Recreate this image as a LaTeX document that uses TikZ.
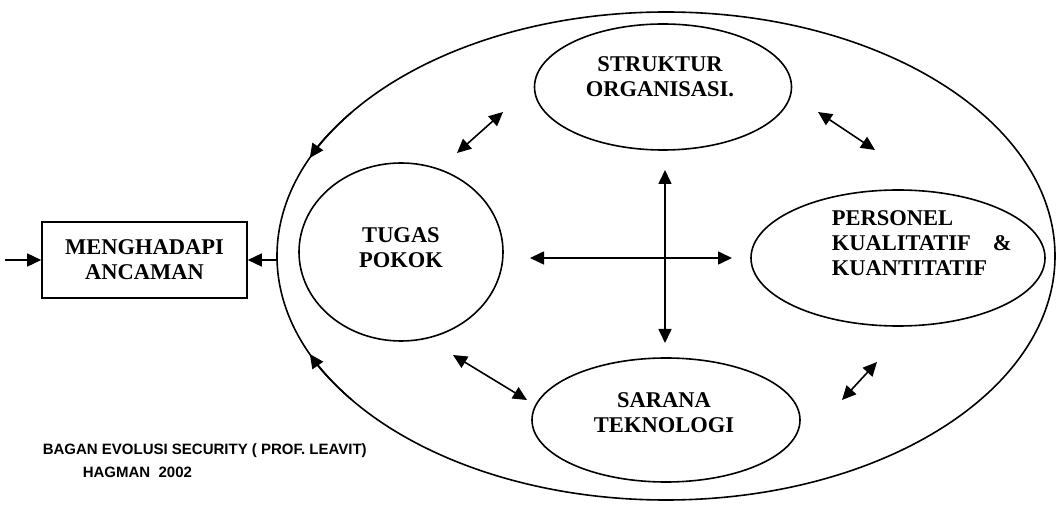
\documentclass[tikz,border=0pt]{standalone}
\usepackage{fontspec}
\setmainfont{Liberation Serif}
\newfontfamily\capfont{Liberation Sans}
\usetikzlibrary{shapes.geometric,arrows.meta,calc}
\begin{document}
\begin{tikzpicture}[x=1pt,y=1pt,
  line width=1.6pt,
  lbl/.style={font=\fontsize{22.5}{25}\selectfont\bfseries, align=center, inner sep=0pt},
  oval/.style={draw, ellipse, inner sep=0pt, outer sep=0pt},
  tip/.tip={Triangle[length=14pt,width=13pt]},
  arr/.style={-tip},
  dbl/.style={tip-tip},
  caption/.style={font=\capfont\fontsize{15}{21}\selectfont\bfseries, inner sep=0pt, anchor=west}]
\useasboundingbox (0,0) rectangle (1060,506);
\fill[white] (0,0) rectangle (1060,506);

% outer ellipse
\node[oval, minimum width=778pt, minimum height=488pt] (outer) at (666,250) {};

% inner ellipses
\node[oval, minimum width=257pt, minimum height=126pt] (so) at (663,419) {};
\node[oval, minimum width=204pt, minimum height=178pt] (tp) at (401,254) {};
\node[oval, minimum width=294pt, minimum height=136pt] (pe) at (898,248) {};
\node[oval, minimum width=268pt, minimum height=124pt] (st) at (666,86) {};

% box
\node[draw, minimum width=205pt, minimum height=76pt, inner sep=0pt,
      font=\fontsize{22.5}{25}\selectfont\bfseries, align=center] (box) at (144.5,246)
      {MENGHADAPI\\ANCAMAN};

% labels
\node[lbl] (soT) at (660,429) {STRUKTUR\\ORGANISASI.};
\node[lbl] (tpT) at (401,258) {TUGAS\\POKOK};
\node[lbl, align=left, anchor=west] (peT) at (831,263) {PERSONEL\\KUALITATIF\hspace{22pt}\&\\KUANTITATIF};
\node[lbl] (stT) at (664,93) {SARANA\\TEKNOLOGI};

% caption
\node[caption] (cap1) at (42,55) {BAGAN EVOLUSI SECURITY ( PROF. LEAVIT)};
\node[caption] (cap2) at (82,34) {HAGMAN\ \ 2002};

% arrows on the outer ellipse
\draw[arr] ($(outer.center)+(144:389pt and 244pt)$)
  arc[start angle=144, end angle=156.3, x radius=389pt, y radius=244pt];
\draw[arr] ($(outer.center)+(216:389pt and 244pt)$)
  arc[start angle=216, end angle=203.7, x radius=389pt, y radius=244pt];

% outer -> box, input -> box
\draw[arr] (outer.west |- box.east) -- (box.east);
\coordinate (in) at (5,246);
\draw[arr] (in) -- (box.west);

% cross
\coordinate (cL) at (530,248);
\coordinate (cR) at (732,248);
\coordinate (cT) at (665,336);
\coordinate (cB) at (665,163);
\draw[dbl] (cL) -- (cR);
\draw[dbl] (cT) -- (cB);

% diagonal double arrows
\coordinate (a1) at (457,353);
\coordinate (a2) at (503,394);
\draw[dbl] (a1) -- (a2);
\coordinate (b1) at (818,394);
\coordinate (b2) at (875,356);
\draw[dbl] (b1) -- (b2);
\coordinate (c1) at (877,144);
\coordinate (c2) at (842,106);
\draw[dbl] (c1) -- (c2);
\coordinate (d1) at (453,151);
\coordinate (d2) at (527,106);
\draw[dbl] (d1) -- (d2);
\end{tikzpicture}
\end{document}
